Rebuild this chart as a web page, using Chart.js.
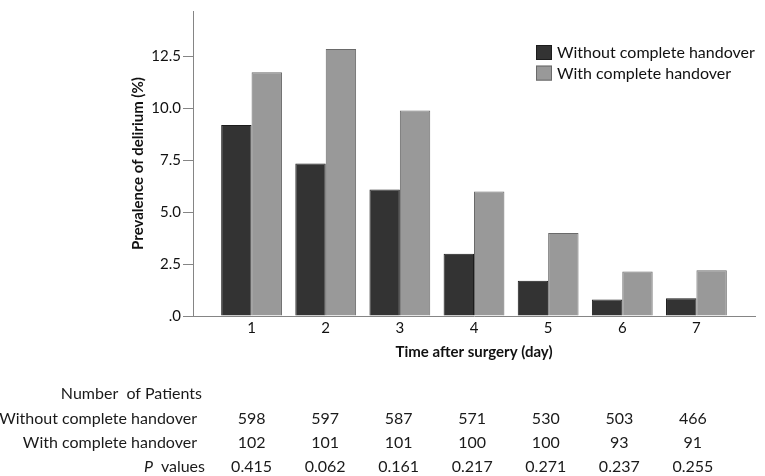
<!DOCTYPE html>
<html><head><meta charset="utf-8">
<script src="https://cdn.jsdelivr.net/npm/chart.js@4"></script>
<style>html,body{margin:0;padding:0;background:#fff}#wrap{width:765px;height:476px}</style>
</head><body><div id="wrap"><canvas id="c" width="765" height="476"></canvas></div>
<script>
const days = [1, 2, 3, 4, 5, 6, 7];
const withoutHandover = [9.2, 7.35, 6.1, 3.0, 1.7, 0.8, 0.85];
const withHandover = [11.75, 12.87, 9.9, 6.0, 4.0, 2.14, 2.2];
const yTickValues = [0, 2.5, 5, 7.5, 10, 12.5];
const yTickLabels = ['.0', '2.5', '5.0', '7.5', '10.0', '12.5'];
const seriesNames = ['Without complete handover', 'With complete handover'];
const patientsWithout = [598, 597, 587, 571, 530, 503, 466];
const patientsWith = [102, 101, 101, 100, 100, 93, 91];
const pValues = ['0.415', '0.062', '0.161', '0.217', '0.271', '0.237', '0.255'];
const tableRowLabels = ['Number  of Patients', 'Without complete handover', 'With complete handover', 'values'];

const FONT = 'Lato, "Open Sans", sans-serif';
const fills = ['#333333', '#999999'];
const strokes = ['#1c1c1c', '#6a6a6a'];

const legendAndTable = {
  id: 'legendAndTable',
  afterDraw(chart) {
    const ctx = chart.ctx;
    const area = chart.chartArea;
    const xs = chart.scales.x;
    ctx.save();
    // legend
    ctx.font = '16px ' + FONT;
    ctx.textAlign = 'left';
    ctx.textBaseline = 'middle';
    chart.data.datasets.forEach((ds, i) => {
      const bx = area.right - 219, by = area.top + 34 + i * 20.6;
      ctx.fillStyle = ds.backgroundColor;
      ctx.fillRect(bx, by, 16, 15);
      ctx.strokeStyle = ds.borderColor;
      ctx.lineWidth = 1;
      ctx.strokeRect(bx + 0.5, by + 0.5, 15, 14);
      ctx.fillStyle = '#111';
      ctx.fillText(ds.label, bx + 21, by + 8);
    });
    // table
    const rowY = [393.5, 418.5, 442.5, 466.5];
    const rowRight = [202, 197, 197, 205];
    ctx.fillStyle = '#1a1a1a';
    ctx.font = '16px ' + FONT;
    ctx.textAlign = 'right';
    tableRowLabels.forEach((t, r) => ctx.fillText(t, rowRight[r], rowY[r]));
    const valuesW = ctx.measureText(tableRowLabels[3]).width;
    ctx.font = 'italic 16px ' + FONT;
    ctx.fillText('P', rowRight[3] - valuesW - 8, rowY[3]);
    ctx.font = '16px ' + FONT;
    ctx.textAlign = 'center';
    const p0 = xs.getPixelForValue(days[0]);
    const rows = [patientsWithout, patientsWith, pValues];
    days.forEach((d, i) => {
      const px = p0 + (xs.getPixelForValue(d) - p0) * 0.992;
      rows.forEach((row, r) => ctx.fillText(String(row[i]), px, rowY[r + 1]));
    });
    ctx.restore();
  }
};

new Chart(document.getElementById('c'), {
  type: 'bar',
  data: {
    datasets: [
      { label: seriesNames[0], data: days.map((d, i) => ({ x: d, y: withoutHandover[i] })),
        backgroundColor: fills[0], borderColor: strokes[0], borderWidth: 1,
        categoryPercentage: 0.82, barPercentage: 1.0 },
      { label: seriesNames[1], data: days.map((d, i) => ({ x: d, y: withHandover[i] })),
        backgroundColor: fills[1], borderColor: strokes[1], borderWidth: 1,
        categoryPercentage: 0.82, barPercentage: 1.0 }
    ]
  },
  options: {
    responsive: false,
    animation: false,
    devicePixelRatio: 1,
    layout: { padding: { left: 125, right: 10, top: 8, bottom: 111 } },
    plugins: { legend: { display: false }, tooltip: { enabled: false }, title: { display: false } },
    scales: {
      x: {
        type: 'linear',
        offset: false,
        min: 0.21, max: 7.79,
        afterBuildTicks: s => { s.ticks = days.map(v => ({ value: v })); },
        afterFit: s => { s.height = 49; },
        grid: { display: false, offset: false },
        border: { display: true, color: '#858585', width: 1 },
        ticks: { color: '#111', font: { family: FONT, size: 15 }, padding: -5, autoSkip: false, maxRotation: 0,
                 callback: v => String(v) },
        title: { display: true, text: 'Time after surgery (day)', color: '#111',
                 font: { family: FONT, size: 15, weight: 'bold' }, padding: { top: 4, bottom: 4 } }
      },
      y: {
        min: 0, max: 14.7,
        afterBuildTicks: s => { s.ticks = yTickValues.map(v => ({ value: v })); },
        afterFit: s => { s.width = 68; },
        grid: { display: true, drawOnChartArea: false, drawTicks: true, tickLength: 10, color: '#858585' },
        border: { display: true, color: '#858585', width: 1 },
        ticks: { color: '#111', font: { family: FONT, size: 15 }, padding: 2,
                 callback: (v) => yTickLabels[yTickValues.indexOf(v)] },
        title: { display: true, text: 'Prevalence of delirium (%)', color: '#111',
                 font: { family: FONT, size: 15, weight: 'bold' }, padding: { top: 4, bottom: 4 } }
      }
    }
  },
  plugins: [legendAndTable]
});
</script>
</body></html>
